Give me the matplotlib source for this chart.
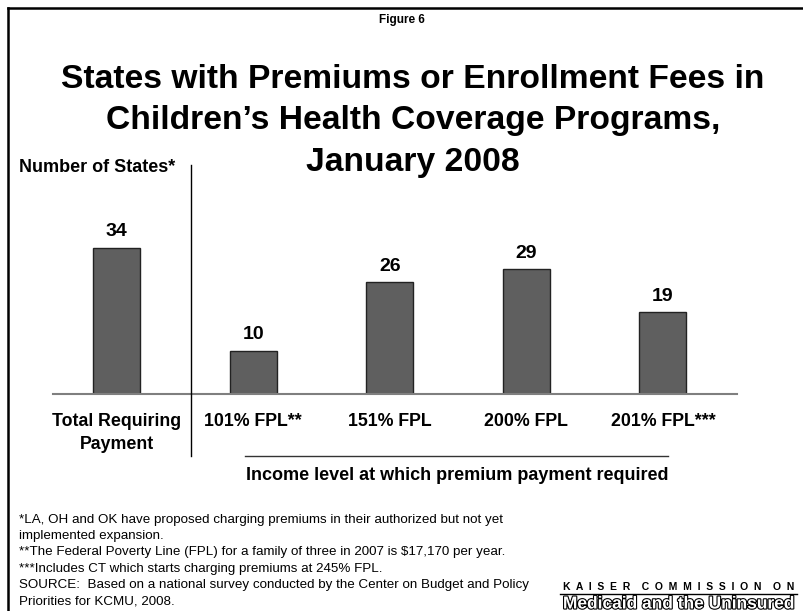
import matplotlib
matplotlib.use("Agg")
import matplotlib.pyplot as plt
import matplotlib.patheffects as pe
from matplotlib.lines import Line2D

plt.rcParams["font.family"] = ["Liberation Sans", "DejaVu Sans"]

categories = ["Total Requiring\nPayment", "101% FPL**", "151% FPL", "200% FPL", "201% FPL***"]
states = [34, 10, 26, 29, 19]

title_lines = [
    "States with Premiums or Enrollment Fees in",
    "Children\u2019s Health Coverage Programs,",
    "January 2008",
]
notes = [
    "*LA, OH and OK have proposed charging premiums in their authorized but not yet",
    "implemented expansion.",
    "**The Federal Poverty Line (FPL) for a family of three in 2007 is $17,170 per year.",
    "***Includes CT which starts charging premiums at 245% FPL.",
    "SOURCE:  Based on a national survey conducted by the Center on Budget and Policy",
    "Priorities for KCMU, 2008.",
]

W, H = 804, 611
fig = plt.figure(figsize=(W / 100, H / 100), dpi=100)


def fx(x):
    return x / W


def fy(y):
    return 1 - y / H


# frame along the top and left edges
fig.add_artist(Line2D([fx(8), 1], [fy(8), fy(8)], color="black", lw=1.8))
fig.add_artist(Line2D([fx(8), fx(8)], [fy(8), 0], color="black", lw=1.8))

fig.text(fx(402), fy(20), "Figure 6", ha="center", va="center", fontsize=8.5, fontweight="bold")
for i, line in enumerate(title_lines):
    fig.text(fx(413), fy(80 + i * 41), line, ha="center", va="center",
             fontsize=24.2, fontweight="bold")

# plotting area: baseline at y=394 px, 34 states ~ 146 px tall
ymax = 40
ax = fig.add_axes([fx(53), fy(394), fx(737) - fx(53), (146 / 34 * ymax) / H])
x = list(range(len(states)))
bars = ax.bar(x, states, width=0.344, color="#5f5f5f", edgecolor="#222222", linewidth=1)
ax.set_xlim(-0.465, 4.542)
ax.set_ylim(0, ymax)

for b, v in zip(bars, states):
    ax.annotate(str(v), (b.get_x() + b.get_width() / 2, v), xytext=(0, 8.5),
                textcoords="offset points", ha="center", va="baseline",
                fontsize=14, fontweight="bold")

ax.set_xticks(x)
ax.set_xticklabels(categories, fontsize=12.8, fontweight="bold", linespacing=1.4)
ax.tick_params(axis="x", length=0, pad=14)
ax.set_yticks([])
for side in ["top", "right", "left"]:
    ax.spines[side].set_visible(False)
ax.spines["bottom"].set_color("#7f7f7f")
ax.spines["bottom"].set_linewidth(1.5)
ax.patch.set_visible(False)

fig.text(fx(19), fy(167), "Number of States*", ha="left", va="center",
         fontsize=13, fontweight="bold")

# divider between total and income-level groups
fig.add_artist(Line2D([fx(191), fx(191)], [fy(165), fy(456)], color="black", lw=1))
fig.add_artist(Line2D([fx(245), fx(668)], [fy(456), fy(456)], color="#333333", lw=1))
fig.text(fx(457), fy(476), "Income level at which premium payment required",
         ha="center", va="center", fontsize=13, fontweight="bold")

for i, line in enumerate(notes):
    fig.text(fx(19), fy(520 + i * 16.2), line, ha="left", va="center", fontsize=9.6)

fig.text(fx(679), fy(587), "K  A  I  S  E  R    C  O  M  M  I  S  S  I  O  N    O  N",
         ha="center", va="center", fontsize=7.5, fontweight="bold")
fig.add_artist(Line2D([fx(560), fx(797)], [fy(594), fy(594)], color="black", lw=1))
fig.text(fx(679), fy(604), "Medicaid and the Uninsured", ha="center", va="center",
         fontsize=12.5, fontweight="bold", color="white",
         path_effects=[pe.Stroke(linewidth=1.6, foreground="black"), pe.Normal()])

fig.savefig("out.png", dpi=100)
